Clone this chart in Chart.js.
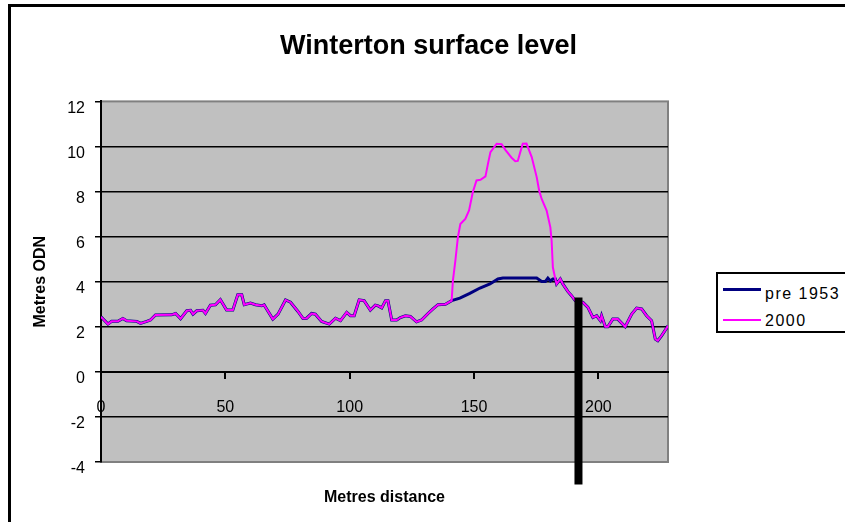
<!DOCTYPE html>
<html>
<head>
<meta charset="utf-8">
<script src="https://cdn.jsdelivr.net/npm/chart.js"></script>
<style>
  html, body { margin: 0; padding: 0; background: #fff; overflow: hidden; }
  #frame { position: absolute; left: 8px; top: 4px; width: 900px; height: 600px; border: 3px solid #000; }
  #wrap { position: absolute; left: 0; top: 0; width: 845px; height: 522px; }
  #legend { position: absolute; left: 716px; top: 272px; width: 160px; height: 57px; border: 2px solid #000; background: #fff;
            font-family: "Liberation Sans", Arial, sans-serif; font-size: 16px; color: #000; }
  #legend .sw { position: absolute; left: 5px; width: 38px; }
  #legend .tx { position: absolute; left: 47px; line-height: 16px; letter-spacing: 1.5px; white-space: nowrap; }
</style>
</head>
<body>
<div id="frame"></div>
<div id="wrap"><canvas id="profileChart" width="845" height="522"></canvas></div>
<div id="legend"></div>
<script>
// profile 2000 (distance in metres, level in metres ODN)
var dist2000 = [0,2.8,4.3,6.8,8.8,10.3,14.4,15.9,18.4,19.9,
  21.9,28.4,30,32,34.5,36,37,38.5,41,42,
  44,46,48,50.5,53,55,56.6,57.6,60.1,62.1,
  64.6,65.6,66.6,69.1,71.2,74.2,76.2,79.2,81.2,82.7,
  84.7,86.2,88.7,91.8,94.3,96.3,98.8,100.3,101.8,103.8,
  105.8,108.3,110.3,111.4,112.9,114.4,115.4,116.9,118.9,120.4,
  122.4,124.4,126.9,128.9,131.5,133.5,135.5,138.5,141,141.5,
  142.5,143.5,144.5,146.5,148,149.5,151,152.6,154.6,155.6,
  156.6,159.1,161.1,162.6,165.1,166.6,167.6,168.6,169.6,171.1,
  173.2,175.2,176.2,177.2,179.2,180.7,181.2,181.7,182.7,183.2,
  184.7,185.7,187.7,189.2,190.7,193.8,195.8,197.8,199.3,200.8,
  201.3,202.8,203.8,205.8,207.8,210.8,213.4,215.4,217.4,219.4,
  221.4,222.9,223.9,225.4,226.9,228];
var level2000 = [2.44,2.12,2.24,2.24,2.37,2.27,2.24,2.15,2.24,2.3,
  2.52,2.53,2.59,2.36,2.71,2.73,2.56,2.71,2.73,2.59,
  2.96,2.98,3.2,2.74,2.74,3.42,3.42,2.98,3.05,2.98,
  2.93,2.97,2.79,2.34,2.56,3.19,3.09,2.68,2.37,2.38,
  2.59,2.56,2.24,2.12,2.38,2.27,2.64,2.49,2.49,3.19,
  3.16,2.74,2.96,2.93,2.84,3.16,3.16,2.3,2.3,2.41,
  2.49,2.46,2.22,2.3,2.59,2.79,2.98,3.0,3.16,4.04,
  4.93,5.97,6.56,6.79,7.16,7.97,8.49,8.52,8.67,9.23,
  9.75,10.12,10.1,9.85,9.5,9.35,9.36,9.75,10.12,10.13,
  9.53,8.64,8.04,7.67,7.16,6.41,5.82,4.64,4.12,3.9,
  4.12,3.9,3.57,3.38,3.16,3.08,2.86,2.41,2.49,2.27,
  2.49,2.0,2.0,2.34,2.34,2.0,2.56,2.83,2.79,2.49,
  2.27,1.45,1.38,1.6,1.85,2.04];

// profile pre 1953
var dist1953 = [0,2.8,4.3,6.8,8.8,10.3,14.4,15.9,18.4,19.9,
  21.9,28.4,30,32,34.5,36,37,38.5,41,42,
  44,46,48,50.5,53,55,56.6,57.6,60.1,62.1,
  64.6,65.6,66.6,69.1,71.2,74.2,76.2,79.2,81.2,82.7,
  84.7,86.2,88.7,91.8,94.3,96.3,98.8,100.3,101.8,103.8,
  105.8,108.3,110.3,111.4,112.9,114.4,115.4,116.9,118.9,120.4,
  122.4,124.4,126.9,128.9,131.5,133.5,135.5,138.5,141,
  144.3,148.3,152.4,156.4,159.6,161.6,175.2,177.2,178.7,179.7,
  180.7,181.7,182.7,183.2,
  184.7,185.7,187.7,189.2,190.7,193.8,195.8,197.8,199.3,200.8,
  201.3,202.8,203.8,205.8,207.8,210.8,213.4,215.4,217.4,219.4,
  221.4,222.9,223.9,225.4,226.9,228];
var level1953 = [2.44,2.12,2.24,2.24,2.37,2.27,2.24,2.15,2.24,2.3,
  2.52,2.53,2.59,2.36,2.71,2.73,2.56,2.71,2.73,2.59,
  2.96,2.98,3.2,2.74,2.74,3.42,3.42,2.98,3.05,2.98,
  2.93,2.97,2.79,2.34,2.56,3.19,3.09,2.68,2.37,2.38,
  2.59,2.56,2.24,2.12,2.38,2.27,2.64,2.49,2.49,3.19,
  3.16,2.74,2.96,2.93,2.84,3.16,3.16,2.3,2.3,2.41,
  2.49,2.46,2.22,2.3,2.59,2.79,2.98,3.0,3.16,
  3.27,3.48,3.72,3.9,4.12,4.16,4.16,4.01,4.01,4.16,
  4.03,4.12,4.12,3.9,
  4.12,3.9,3.57,3.38,3.16,3.08,2.86,2.41,2.49,2.27,
  2.49,2.0,2.0,2.34,2.34,2.0,2.56,2.83,2.79,2.49,
  2.27,1.45,1.38,1.6,1.85,2.04];

// black marker post
var markerDist = [192, 192];
var markerLevel = [3.3, -5];

var seriesNames = ['pre 1953', '2000'];
var seriesColors = ['#000080', '#FF00FF'];
var seriesWidths = [3, 2];

function pts(xs, ys) {
  return xs.map(function (x, i) { return { x: x, y: ys[i] }; });
}

var plotBg = {
  id: 'plotBg',
  beforeDraw: function (chart) {
    var a = chart.chartArea, c = chart.ctx;
    c.save();
    c.fillStyle = '#C0C0C0';
    c.fillRect(a.left, a.top, a.right - a.left, a.bottom - a.top);
    c.strokeStyle = '#808080';
    c.lineWidth = 2;
    c.strokeRect(a.left, a.top, a.right - a.left, a.bottom - a.top);
    c.restore();
  }
};

var gridColor = function (ctx) {
  var v = ctx.tick ? ctx.tick.value : null;
  return (v === 12 || v === -4) ? 'rgba(0,0,0,0)' : '#000';
};

var fontFam = '"Liberation Sans", Arial, sans-serif';

var chart = new Chart(document.getElementById('profileChart'), {
  type: 'line',
  data: {
    datasets: [
      { label: seriesNames[0], data: pts(dist1953, level1953), borderColor: seriesColors[0],
        borderWidth: seriesWidths[0], pointRadius: 0, tension: 0, order: 2 },
      { label: seriesNames[1], data: pts(dist2000, level2000), borderColor: seriesColors[1],
        borderWidth: seriesWidths[1], pointRadius: 0, tension: 0, order: 1 },
      { label: 'marker', data: pts(markerDist, markerLevel), borderColor: '#000',
        borderWidth: 8, borderCapStyle: 'butt', pointRadius: 0, clip: false, order: 0 }
    ]
  },
  options: {
    responsive: false,
    animation: false,
    devicePixelRatio: 1,
    layout: { padding: { left: 25, right: 13, top: 0, bottom: 0 } },
    plugins: {
      legend: { display: false },
      tooltip: { enabled: false },
      title: {
        display: true,
        text: 'Winterton surface level',
        color: '#000',
        font: { family: fontFam, size: 27, weight: 'bold' },
        padding: { top: 30, bottom: 39 }
      }
    },
    scales: {
      x: {
        type: 'linear',
        position: { y: 0 },
        min: 0, max: 228,
        afterBuildTicks: function (s) { s.ticks = s.ticks.filter(function (t) { return t.value % 50 === 0; }); },
        ticks: { stepSize: 50, color: '#000', padding: 20, maxRotation: 0,
                 font: { family: fontFam, size: 16 } },
        grid: { drawOnChartArea: false, drawTicks: true, tickLength: 6, color: '#000', lineWidth: 2 },
        border: { display: true, color: '#000', width: 2 }
      },
      x2: {
        type: 'linear',
        position: 'bottom',
        min: 0, max: 228,
        afterFit: function (s) { s.height = 60; },
        ticks: { display: false },
        grid: { display: false },
        border: { display: false },
        title: { display: true, text: 'Metres distance', color: '#000',
                 font: { family: fontFam, size: 16, weight: 'bold' },
                 padding: { top: 26, bottom: 15 } }
      },
      y: {
        type: 'linear',
        min: -4, max: 12,
        afterFit: function (s) { s.width = 76; },
        ticks: { stepSize: 2, color: '#000', padding: 10, labelOffset: 7,
                 font: { family: fontFam, size: 16 } },
        grid: { color: gridColor, tickColor: '#000', lineWidth: 1.5, tickLength: 6 },
        border: { display: true, color: '#000', width: 2 },
        title: { display: true, text: 'Metres ODN', color: '#000',
                 font: { family: fontFam, size: 16, weight: 'bold' },
                 padding: { top: 6 } }
      },
      // empty right-hand axis: keeps the space for the legend
      y2: {
        type: 'linear',
        position: 'right',
        min: -4, max: 12,
        afterFit: function (s) { s.width = 164; },
        ticks: { display: false },
        grid: { display: false },
        border: { display: false }
      }
    }
  },
  plugins: [plotBg]
});

// legend built from the series
var lg = document.getElementById('legend');
var swTop = [14, 45], txTop = [12, 39];
seriesNames.forEach(function (name, i) {
  var sw = document.createElement('div');
  sw.className = 'sw';
  sw.style.top = swTop[i] + 'px';
  sw.style.height = seriesWidths[i] + 'px';
  sw.style.background = seriesColors[i];
  lg.appendChild(sw);
  var tx = document.createElement('div');
  tx.className = 'tx';
  tx.style.top = txTop[i] + 'px';
  tx.textContent = name;
  lg.appendChild(tx);
});
</script>
</body>
</html>
